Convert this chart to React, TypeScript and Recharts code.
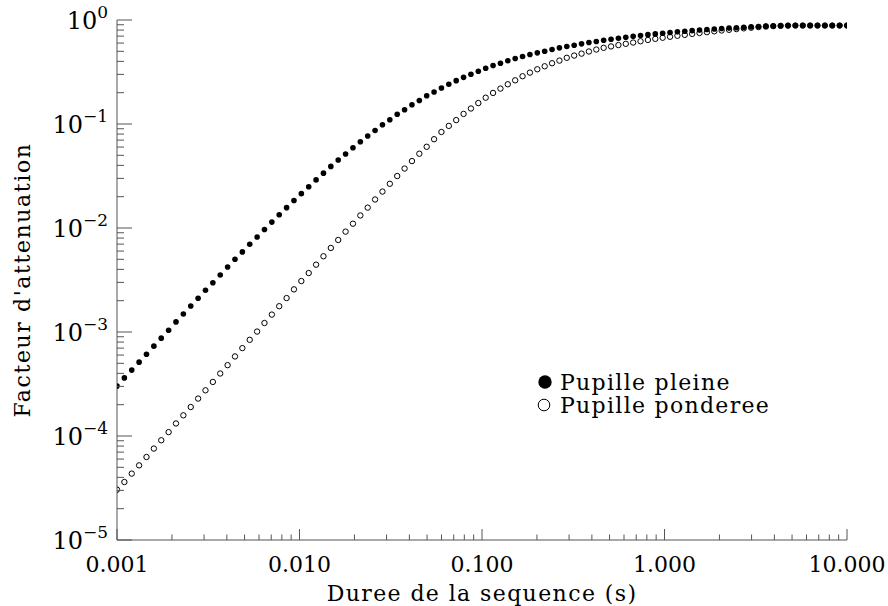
import { LineChart, Line, XAxis, YAxis, Legend } from 'recharts'

// durée de la séquence (s) – 100 points régulièrement espacés en log de 0.001 à 10
const X_VALUES = [
  0.001, 0.0010975, 0.0012045, 0.0013219, 0.0014508, 0.0015923, 0.0017475, 0.0019179, 0.0021049, 0.0023101,
  0.0025354, 0.0027826, 0.0030539, 0.0033516, 0.0036784, 0.004037, 0.0044306, 0.0048626, 0.0053367, 0.005857,
  0.0064281, 0.0070548, 0.0077426, 0.0084975, 0.009326, 0.010235, 0.011233, 0.012328, 0.01353, 0.01485,
  0.016298, 0.017886, 0.01963, 0.021544, 0.023645, 0.02595, 0.02848, 0.031257, 0.034305, 0.037649,
  0.04132, 0.045349, 0.04977, 0.054623, 0.059948, 0.065793, 0.072208, 0.079248, 0.086975, 0.095455,
  0.10476, 0.11498, 0.12619, 0.13849, 0.15199, 0.16681, 0.18307, 0.20092, 0.22051, 0.24201,
  0.26561, 0.29151, 0.31993, 0.35112, 0.38535, 0.42292, 0.46416, 0.50941, 0.55908, 0.61359,
  0.67342, 0.73907, 0.81113, 0.89022, 0.97701, 1.0723, 1.1768, 1.2916, 1.4175, 1.5557,
  1.7074, 1.8738, 2.0565, 2.257, 2.4771, 2.7186, 2.9837, 3.2746, 3.5938, 3.9442,
  4.3288, 4.7508, 5.214, 5.7224, 6.2803, 6.8926, 7.5646, 8.3022, 9.1116, 10,
]

// Pupille pleine (points pleins)
const PLEINE = [
  3.02e-4, 3.62e-4, 4.3e-4, 5.13e-4, 6.12e-4, 7.31e-4, 8.73e-4, 1.04e-3, 1.25e-3, 1.49e-3,
  1.78e-3, 2.11e-3, 2.52e-3, 2.98e-3, 3.53e-3, 4.22e-3, 5.01e-3, 5.89e-3, 6.98e-3, 8.2e-3,
  9.66e-3, 1.14e-2, 1.34e-2, 1.57e-2, 1.84e-2, 2.14e-2, 2.49e-2, 2.9e-2, 3.37e-2, 3.91e-2,
  4.5e-2, 5.14e-2, 5.92e-2, 6.75e-2, 7.66e-2, 8.67e-2, 9.84e-2, 0.11, 0.124, 0.137,
  0.153, 0.168, 0.187, 0.203, 0.222, 0.241, 0.261, 0.281, 0.301, 0.321,
  0.344, 0.365, 0.384, 0.405, 0.426, 0.445, 0.466, 0.483, 0.5, 0.52,
  0.54, 0.556, 0.571, 0.59, 0.607, 0.621, 0.638, 0.653, 0.668, 0.682,
  0.697, 0.71, 0.723, 0.735, 0.746, 0.759, 0.769, 0.78, 0.791, 0.8,
  0.809, 0.818, 0.828, 0.836, 0.843, 0.851, 0.859, 0.867, 0.873, 0.877,
  0.881, 0.883, 0.885, 0.885, 0.885, 0.885, 0.885, 0.885, 0.885, 0.885,
]

// Pupille ponderee (cercles vides)
const PONDEREE = [
  3.05e-5, 3.61e-5, 4.35e-5, 5.22e-5, 6.28e-5, 7.57e-5, 9.1e-5, 1.09e-4, 1.32e-4, 1.58e-4,
  1.9e-4, 2.29e-4, 2.75e-4, 3.31e-4, 3.99e-4, 4.8e-4, 5.82e-4, 7.0e-4, 8.41e-4, 1.01e-3,
  1.22e-3, 1.47e-3, 1.77e-3, 2.12e-3, 2.57e-3, 3.09e-3, 3.69e-3, 4.44e-3, 5.35e-3, 6.43e-3,
  7.67e-3, 9.23e-3, 1.1e-2, 1.32e-2, 1.57e-2, 1.88e-2, 2.24e-2, 2.66e-2, 3.16e-2, 3.73e-2,
  4.4e-2, 5.18e-2, 6.04e-2, 7.14e-2, 8.38e-2, 9.59e-2, 0.109, 0.125, 0.141, 0.159,
  0.179, 0.199, 0.219, 0.241, 0.263, 0.288, 0.312, 0.336, 0.359, 0.384,
  0.407, 0.433, 0.455, 0.475, 0.498, 0.52, 0.54, 0.557, 0.574, 0.59,
  0.607, 0.625, 0.643, 0.659, 0.675, 0.69, 0.705, 0.719, 0.735, 0.75,
  0.764, 0.778, 0.793, 0.805, 0.818, 0.832, 0.843, 0.855, 0.865, 0.873,
  0.879, 0.883, 0.885, 0.885, 0.885, 0.885, 0.885, 0.885, 0.885, 0.885,
]

const X_DECADES = [0.001, 0.01, 0.1, 1, 10]
const Y_DECADES = [1e-5, 1e-4, 1e-3, 1e-2, 1e-1, 1]
const MINOR_STEPS = [2, 3, 4, 5, 6, 7, 8, 9]

const SERIES_NAMES = ['Pupille pleine', 'Pupille ponderee']
const X_TITLE = 'Duree de la sequence (s)'
const Y_TITLE = "Facteur d'attenuation"

const FONT = "'DejaVu Serif', serif"
const AXIS = '#555'

const withMinors = (decades: number[]) => {
  const out: number[] = []
  decades.forEach((d, i) => {
    out.push(d)
    if (i < decades.length - 1) MINOR_STEPS.forEach((m) => out.push(+(d * m).toPrecision(6)))
  })
  return out
}

const X_TICKS = withMinors(X_DECADES)
const Y_TICKS = withMinors(Y_DECADES)

const data = X_VALUES.map((x, i) => ({ x, pleine: PLEINE[i], ponderee: PONDEREE[i] }))

const isDecade = (v: number) => Math.abs(Math.log10(v) - Math.round(Math.log10(v))) < 1e-6

function XTick(props: any) {
  const { x, y, payload, side } = props
  const v = payload.value
  const major = isDecade(v)
  const len = major ? 11 : 5.5
  const dir = side === 'bottom' ? -1 : 1
  return (
    <g>
      <line x1={x} x2={x} y1={y} y2={y + dir * len} stroke={AXIS} strokeWidth={1} />
      {side === 'bottom' && major && (
        <text x={x} y={y + 32} textAnchor="middle" fontFamily={FONT} fontSize={22} fill="#000">
          {v.toFixed(3)}
        </text>
      )}
    </g>
  )
}

function YTick(props: any) {
  const { x, y, payload, side } = props
  const v = payload.value
  const major = isDecade(v)
  const len = major ? 15 : 7
  const dir = side === 'left' ? 1 : -1
  const exp = Math.round(Math.log10(v))
  return (
    <g>
      <line x1={x} x2={x + dir * len} y1={y} y2={y} stroke={AXIS} strokeWidth={1} />
      {side === 'left' && major && (
        <text x={x - 9} y={y + 9} textAnchor="end" fontFamily={FONT} fontSize={24} fill="#000">
          10
          <tspan dy={-11} fontSize={17}>
            {exp < 0 ? '\u2212' + Math.abs(exp) : String(exp)}
          </tspan>
        </text>
      )}
    </g>
  )
}

function YTitle(props: any) {
  const vb = props.viewBox || {}
  const cy = (vb.y ?? 20) + (vb.height ?? 520) / 2
  return (
    <text
      transform={`translate(30, ${cy}) rotate(-90)`}
      textAnchor="middle"
      fontFamily={FONT}
      fontSize={22}
      letterSpacing={1.6}
      fill="#000"
    >
      {Y_TITLE}
    </text>
  )
}

function LegendBox() {
  return (
    <svg width={260} height={54} style={{ overflow: 'visible', display: 'block' }}>
      <circle cx={10} cy={14} r={6.7} fill="#000" />
      <text x={25} y={22} fontFamily={FONT} fontSize={22} letterSpacing={1.3} fill="#000">
        {SERIES_NAMES[0]}
      </text>
      <circle cx={9} cy={37} r={5.8} fill="none" stroke="#000" strokeWidth={1} />
      <text x={25} y={45} fontFamily={FONT} fontSize={22} letterSpacing={1.3} fill="#000">
        {SERIES_NAMES[1]}
      </text>
    </svg>
  )
}

export default function App() {
  return (
    <div style={{ position: 'absolute', left: 0, top: 0, width: 888, height: 606, background: '#fff' }}>
      <LineChart width={888} height={606} data={data} margin={{ top: 20, right: 41, bottom: 0, left: 0 }}>
        <XAxis
          xAxisId="bottom"
          dataKey="x"
          type="number"
          scale="log"
          domain={[0.001, 10]}
          allowDataOverflow
          ticks={X_TICKS}
          interval={0}
          height={66}
          tickSize={0}
          tickMargin={0}
          tickLine={false}
          axisLine={{ stroke: AXIS, strokeWidth: 1 }}
          tick={(p: any) => <XTick {...p} side="bottom" />}
          label={{
            value: X_TITLE,
            position: 'insideBottom',
            offset: 5,
            fontFamily: FONT,
            fontSize: 22,
            letterSpacing: 1.4,
            fill: '#000',
          }}
        />
        <XAxis
          xAxisId="top"
          orientation="top"
          dataKey="x"
          type="number"
          scale="log"
          domain={[0.001, 10]}
          allowDataOverflow
          ticks={X_TICKS}
          interval={0}
          height={0}
          tickSize={0}
          tickMargin={0}
          tickLine={false}
          axisLine={{ stroke: AXIS, strokeWidth: 1 }}
          tick={(p: any) => <XTick {...p} side="top" />}
        />
        <YAxis
          yAxisId="left"
          type="number"
          scale="log"
          domain={[1e-5, 1]}
          allowDataOverflow
          ticks={Y_TICKS}
          interval={0}
          width={117}
          tickSize={0}
          tickMargin={0}
          tickLine={false}
          axisLine={{ stroke: AXIS, strokeWidth: 1 }}
          tick={(p: any) => <YTick {...p} side="left" />}
          label={{ value: Y_TITLE, content: (p: any) => <YTitle {...p} /> }}
        />
        <YAxis
          yAxisId="right"
          orientation="right"
          type="number"
          scale="log"
          domain={[1e-5, 1]}
          allowDataOverflow
          ticks={Y_TICKS}
          interval={0}
          width={0}
          tickSize={0}
          tickMargin={0}
          tickLine={false}
          axisLine={{ stroke: AXIS, strokeWidth: 1 }}
          tick={(p: any) => <YTick {...p} side="right" />}
        />
        <Legend
          layout="vertical"
          align="center"
          verticalAlign="middle"
          wrapperStyle={{ left: 535, top: 368, width: 260 }}
          content={() => <LegendBox />}
        />
        <Line
          xAxisId="bottom"
          yAxisId="left"
          dataKey="ponderee"
          name={SERIES_NAMES[1]}
          stroke="none"
          dot={{ r: 2.7, fill: 'none', stroke: '#000', strokeWidth: 1 }}
          activeDot={false}
          isAnimationActive={false}
        />
        <Line
          xAxisId="bottom"
          yAxisId="left"
          dataKey="pleine"
          name={SERIES_NAMES[0]}
          stroke="none"
          dot={{ r: 2.8, fill: '#000', stroke: 'none' }}
          activeDot={false}
          isAnimationActive={false}
        />
      </LineChart>
    </div>
  )
}
